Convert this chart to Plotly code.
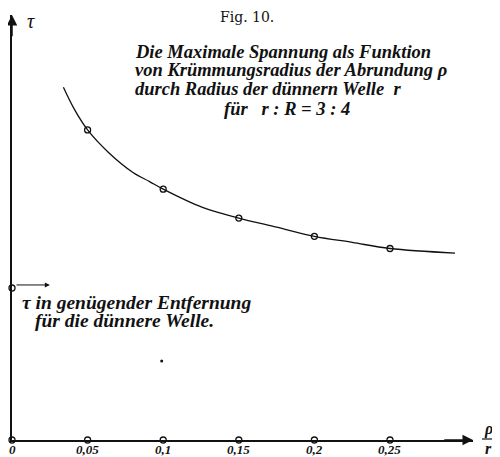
import plotly.graph_objects as go

# curve: rho/r against tau (tau in units of tau far away)
curve_x = [0.034, 0.041, 0.05, 0.064, 0.080, 0.091, 0.10, 0.126, 0.15, 0.175, 0.20, 0.225, 0.25, 0.293]
curve_tau = [2.32, 2.18, 2.04, 1.89, 1.76, 1.70, 1.65, 1.53, 1.46, 1.40, 1.34, 1.30, 1.26, 1.23]

# measured points (hollow circles on the curve)
point_x = [0.05, 0.10, 0.15, 0.20, 0.25]
point_tau = [2.04, 1.65, 1.46, 1.34, 1.26]

# x axis ticks
tick_vals = [0, 0.05, 0.1, 0.15, 0.2, 0.25]
tick_text = ["0", "0,05", "0,1", "0,15", "0,2", "0,25"]

# tau far from the shoulder, thinner shaft
tau_inf = 1.0

# stray printing speck
speck_x = [0.099]
speck_tau = [0.52]

X_MAX = 0.3049
Y_MAX = 2.796
OFF = 8  # page body margin
W, H = 500 - OFF, 457 - OFF
L, R, T, B = 12 - OFF, 27, 15 - OFF, 17
PW, PH = W - L - R, H - T - B


def px(x):
    return (x - OFF - L) / PW


def py(y):
    return (H - B - (y - OFF)) / PH


FONT = "Times New Roman, Liberation Serif, serif"
ink = "#111"

fig = go.Figure()

fig.add_trace(go.Scatter(
    x=curve_x, y=curve_tau, mode="lines", line_shape="spline",
    line=dict(color=ink, width=1.3), hoverinfo="skip",
))
fig.add_trace(go.Scatter(
    x=point_x, y=point_tau, mode="markers",
    marker=dict(symbol="circle-open", size=6, color=ink, line_width=1.3),
))
fig.add_trace(go.Scatter(
    x=tick_vals, y=[0] * len(tick_vals), mode="markers", cliponaxis=False,
    marker=dict(symbol="circle", size=6, color="white", line=dict(color=ink, width=1.3)),
))
fig.add_trace(go.Scatter(
    x=[0], y=[tau_inf], mode="markers", cliponaxis=False,
    marker=dict(symbol="circle", size=6, color="white", line=dict(color=ink, width=1.3)),
))
fig.add_trace(go.Scatter(
    x=speck_x, y=speck_tau, mode="markers",
    marker=dict(size=3, color=ink),
))

# tick labels just under the axis
for v, t in zip(tick_vals, tick_text):
    fig.add_annotation(x=v, y=0, xref="x", yref="y", yshift=-9, text=f"<b><i>{t}</i></b>",
                       showarrow=False, xanchor="center", yanchor="middle",
                       font=dict(family=FONT, size=13, color=ink))

# arrow heads at the ends of the axes
fig.add_annotation(x=X_MAX, y=0, ax=X_MAX - 0.02, ay=0, xref="x", yref="y",
                   axref="x", ayref="y", text="", showarrow=True,
                   arrowhead=2, arrowsize=1.4, arrowwidth=1.5, arrowcolor=ink)
fig.add_annotation(x=0, y=Y_MAX, ax=0, ay=Y_MAX - 0.15, xref="x", yref="y",
                   axref="x", ayref="y", text="", showarrow=True,
                   arrowhead=2, arrowsize=1.4, arrowwidth=1.5, arrowcolor=ink)
# little arrow from tau_inf
fig.add_annotation(x=0.025, y=tau_inf + 0.02, ax=0.002, ay=tau_inf + 0.02, xref="x", yref="y",
                   axref="x", ayref="y", text="", showarrow=True,
                   arrowhead=2, arrowsize=1, arrowwidth=1, arrowcolor=ink)

texts = [
    ("Fig. 10.", 247, 17, "center", 14, "DejaVu Serif"),
    ("<b><i>Die Maximale Spannung als Funktion</i></b>", 133, 52, "left", 18.5, FONT),
    ("<b><i>von Krümmungsradius der Abrundung ρ</i></b>", 133, 70, "left", 18.5, FONT),
    ("<b><i>durch Radius der dünnern Welle  r</i></b>", 133, 89, "left", 18.5, FONT),
    ("<b><i>für   r : R = 3 : 4</i></b>", 287, 109, "center", 18.5, FONT),
    ("<b><i>τ in genügender Entfernung</i></b>", 20, 302, "left", 19.5, FONT),
    ("<b><i>für die dünnere Welle.</i></b>", 33, 320, "left", 19.5, FONT),
    ("<i>τ</i>", 31, 21, "center", 20, FONT),
    ("<b><i>ρ</i></b>", 488, 429, "center", 16, FONT),
    ("<b><i>r</i></b>", 488, 448, "center", 16, FONT),
]
for txt, x, y, anchor, size, fam in texts:
    fig.add_annotation(x=px(x), y=py(y), xref="paper", yref="paper", text=txt,
                       showarrow=False, xanchor=anchor, yanchor="middle",
                       font=dict(family=fam, size=size, color=ink))

# fraction bar of rho/r
fig.add_shape(type="line", xref="paper", yref="paper",
              x0=px(482), x1=px(494), y0=py(439), y1=py(439),
              line=dict(color=ink, width=1.2))

fig.update_xaxes(
    range=[0, X_MAX], showline=True, linecolor=ink, linewidth=1.5,
    showgrid=False, zeroline=False, ticks="", automargin=False,
    showticklabels=False,
)
fig.update_yaxes(
    range=[0, Y_MAX], showline=True, linecolor=ink, linewidth=1.5,
    showgrid=False, zeroline=False, showticklabels=False, ticks="", automargin=False,
)
fig.update_layout(
    width=W, height=H, margin=dict(l=L, r=R, t=T, b=B, autoexpand=False),
    plot_bgcolor="white", paper_bgcolor="white", showlegend=False,
)
fig.write_html("out.html")
